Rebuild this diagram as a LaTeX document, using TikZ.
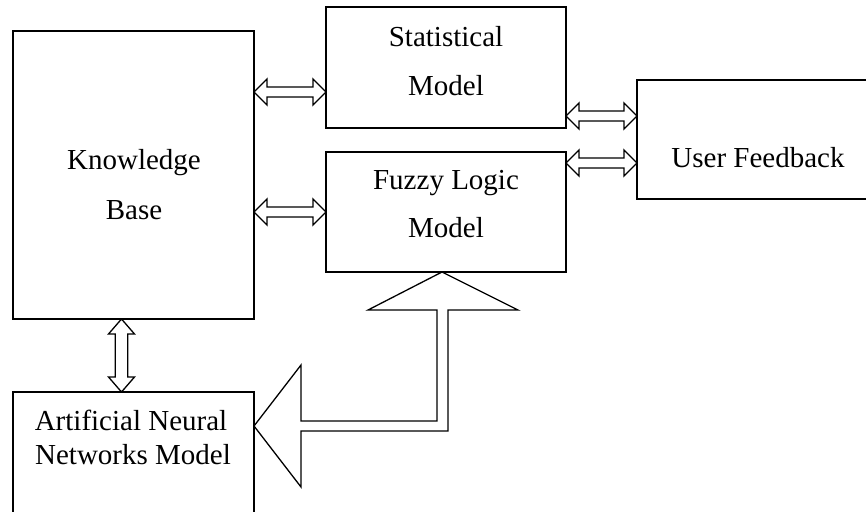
\documentclass[tikz,border=0pt]{standalone}
\usepackage{fontspec}
\setmainfont{Liberation Serif}
\usetikzlibrary{calc}
\tikzset{
  box/.style={draw, line width=1.5pt, inner sep=0pt, outer sep=0pt, anchor=north west},
  lbl/.style={anchor=base, inner sep=0pt, font=\fontsize{29}{34}\selectfont},
  arr/.style={draw, line width=1.3pt, line join=miter, fill=white},
}
% double-headed hollow arrow from #2 to #3, shaft half-width #1
\newcommand\dblarr[4][13]{%
  \draw[arr] (#3)
    -- ($(#3)!#1pt!(#4)!13pt!90:(#4)$)
    -- ($(#3)!#1pt!(#4)!#2pt!90:(#4)$)
    -- ($(#4)!#1pt!(#3)!#2pt!-90:(#3)$)
    -- ($(#4)!#1pt!(#3)!13pt!-90:(#3)$)
    -- (#4)
    -- ($(#4)!#1pt!(#3)!13pt!90:(#3)$)
    -- ($(#4)!#1pt!(#3)!#2pt!90:(#3)$)
    -- ($(#3)!#1pt!(#4)!#2pt!-90:(#4)$)
    -- ($(#3)!#1pt!(#4)!13pt!-90:(#4)$)
    -- cycle;}
\begin{document}
\begin{tikzpicture}[x=1pt,y=-1pt]
\useasboundingbox (0,0) rectangle (866,511);
\clip (0,0) rectangle (866,511);
% boxes
\node[box, minimum width=241pt, minimum height=288pt] (kb) at (13,31) {};
\node[box, minimum width=240pt, minimum height=121pt] (stat) at (326,7) {};
\node[box, minimum width=240pt, minimum height=120pt] (fuzzy) at (326,152) {};
\node[box, minimum width=240pt, minimum height=119pt] (uf) at (637,80) {};
\node[box, minimum width=241pt, minimum height=130pt] (ann) at (13,392) {};
% texts
\node[lbl] (t1) at (446,47) {Statistical};
\node[lbl] (t2) at (446,95) {Model};
\node[lbl] (t3) at (446,189) {Fuzzy Logic};
\node[lbl] (t4) at (446,237) {Model};
\node[lbl] (t5) at (134,169) {Knowledge};
\node[lbl] (t6) at (134,219) {Base};
\node[lbl] (t7) at (758,167) {User Feedback};
\node[lbl] (t8) at (131,430) {Artificial Neural};
\node[lbl] (t9) at (133,464) {Networks Model};
% connector end points
\coordinate (a1) at (kb.east |- 0,92);
\coordinate (b1) at (stat.west |- 0,92);
\coordinate (a2) at (kb.east |- 0,212);
\coordinate (b2) at (fuzzy.west |- 0,212);
\coordinate (a3) at (stat.east |- 0,116);
\coordinate (b3) at (uf.west |- 0,116);
\coordinate (a4) at (fuzzy.east |- 0,163);
\coordinate (b4) at (uf.west |- 0,163);
\coordinate (a5) at (kb.south -| 121.5,0);
\coordinate (b5) at (ann.north -| 121.5,0);
% double arrows
\dblarr{5}{a1}{b1}
\dblarr{5}{a2}{b2}
\dblarr{5}{a3}{b3}
\dblarr{5}{a4}{b4}
\dblarr[15]{6.3}{a5}{b5}
% big bent arrow from ANN to Fuzzy Logic
\coordinate (up) at (fuzzy.south -| 442,0);
\coordinate (lt) at (ann.east |- 0,426);
\draw[arr] (up) -- (518,310) -- (448,310) -- (448,431) -- (301,431)
  -- (301,487) -- (lt) -- (301,365) -- (301,421) -- (437,421)
  -- (437,310) -- (368,310) -- cycle;
\end{tikzpicture}
\end{document}
